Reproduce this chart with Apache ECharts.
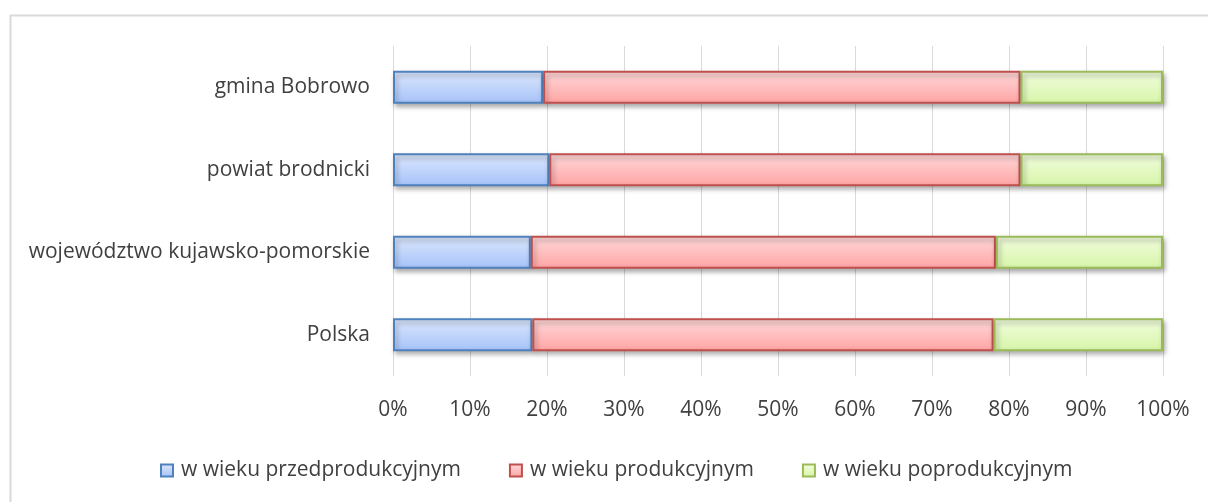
<!DOCTYPE html>
<html>
<head>
<meta charset="utf-8">
<script src="https://cdn.jsdelivr.net/npm/echarts@6/dist/echarts.min.js"></script>
<style>
html,body{margin:0;padding:0;background:#fff;}
#c{width:1208px;height:502px;}
</style>
</head>
<body>
<div id="c"></div>
<script>
var categories = ['gmina Bobrowo', 'powiat brodnicki', 'województwo kujawsko-pomorskie', 'Polska'];
var seriesNames = ['w wieku przedprodukcyjnym', 'w wieku produkcyjnym', 'w wieku poprodukcyjnym'];
var przed = [19.5, 20.3, 17.9, 18.1];
var prod = [62.0, 61.2, 60.4, 59.9];
var popr = [18.5, 18.5, 21.7, 22.0];
var tickLabels = ['0%', '10%', '20%', '30%', '40%', '50%', '60%', '70%', '80%', '90%', '100%'];

var FONT = 'Open Sans';
var TXT = '#404040';

function grad(top, bottom) {
  return new echarts.graphic.LinearGradient(0, 0, 0, 1, [
    {offset: 0, color: top}, {offset: 1, color: bottom}
  ]);
}
var styles = [
  {color: grad('#dde8fd', '#a5c2f9'), borderColor: '#4f81bd'},
  {color: grad('#ffdada', '#ffa3a3'), borderColor: '#c0504d'},
  {color: grad('#f2fddf', '#d6f5a8'), borderColor: '#9bbb59'}
];
var dataSets = [przed, prod, popr];

var chart = echarts.init(document.getElementById('c'), null, {renderer: 'canvas'});
chart.setOption({
  animation: false,
  graphic: [{
    type: 'rect', left: 8, top: 13, z: -10,
    shape: {width: 1240, height: 520},
    style: {fill: 'none', stroke: '#d9d9d9', lineWidth: 2}
  }],
  grid: {left: 393, right: 45, top: 46, bottom: 126, containLabel: false},
  legend: {
    top: 455, left: 155,
    itemWidth: 12, itemHeight: 12, itemGap: 48,
    icon: 'rect',
    textStyle: {fontFamily: FONT, fontSize: 21, color: TXT, padding: [0, 0, 0, 3]},
    data: seriesNames
  },
  xAxis: {
    type: 'value', min: 0, max: 100, interval: 10,
    axisLine: {show: false}, axisTick: {show: false},
    splitLine: {show: true, lineStyle: {color: '#d9d9d9', width: 1}},
    axisLabel: {
      margin: 24, fontFamily: FONT, fontSize: 21, color: TXT,
      formatter: function (v) { return tickLabels[Math.round(v / 10)]; }
    }
  },
  yAxis: {
    type: 'category', inverse: true, data: categories,
    axisLine: {show: false}, axisTick: {show: false},
    axisLabel: {margin: 23, fontFamily: FONT, fontSize: 21, color: TXT}
  },
  series: dataSets.map(function (d, i) {
    return {
      name: seriesNames[i], type: 'bar', stack: 'total', data: d,
      barWidth: 33,
      itemStyle: {
        color: styles[i].color, borderColor: styles[i].borderColor, borderWidth: 2,
        shadowColor: 'rgba(0,0,0,0.35)', shadowBlur: 5, shadowOffsetX: 2, shadowOffsetY: 3
      }
    };
  })
});
</script>
</body>
</html>
